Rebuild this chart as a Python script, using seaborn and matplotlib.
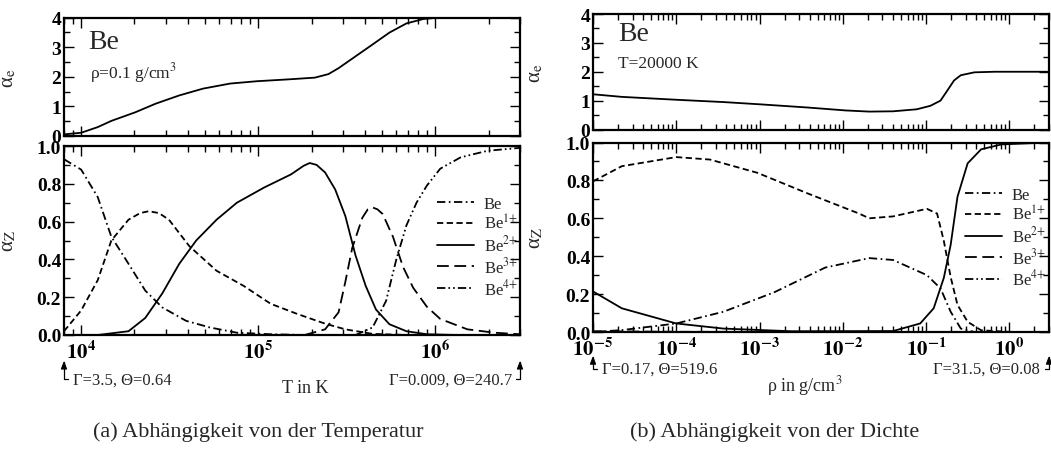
import numpy as np
import pandas as pd
import matplotlib
matplotlib.use("Agg")
import matplotlib.pyplot as plt
import seaborn as sns
from matplotlib.ticker import FixedLocator, LogLocator, NullFormatter, MultipleLocator

# ---------------- data: (a) temperature dependence, rho = 0.1 g/cm^3 ----------------
t_ae = [8000, 8180, 1.0e4, 12400, 14800, 20200, 26300, 35800, 48800, 69300, 98600, 146600,
        208400, 248900, 283800, 354000, 441600, 549500, 685500, 855100, 1.02e6, 1.66e6, 3.0e6]
ae_T = [0.03, 0.06, 0.11, 0.30, 0.51, 0.80, 1.09, 1.37, 1.60, 1.77, 1.85, 1.91,
        1.97, 2.09, 2.29, 2.69, 3.09, 3.49, 3.80, 3.95, 3.99, 4.0, 4.0]

t_be0 = [8000, 1.0e4, 12400, 14800, 18500, 23000, 28700, 39100, 53200, 75700, 117500, 182800, 3.0e6]
be0_T = [0.93, 0.875, 0.73, 0.52, 0.377, 0.235, 0.146, 0.075, 0.04, 0.012, 0.004, 0.0, 0.0]

t_be1 = [8000, 1.0e4, 12400, 14800, 18500, 21500, 24100, 27500, 31300, 40800, 58100, 82600, 117500,
         167500, 238200, 309700, 441600, 685500, 3.0e6]
be1_T = [0.02, 0.13, 0.29, 0.50, 0.61, 0.645, 0.655, 0.645, 0.61, 0.47, 0.34, 0.26, 0.165,
         0.11, 0.06, 0.03, 0.006, 0.0, 0.0]

t_be2 = [12400, 18500, 23000, 28700, 35800, 44600, 58100, 75700, 107700, 153100, 180000, 195000,
         213300, 238200, 271600, 309700, 354000, 403600, 461300, 549500, 685500, 893300, 1.33e6, 3.0e6]
be2_T = [0.0, 0.02, 0.09, 0.22, 0.377, 0.50, 0.61, 0.70, 0.78, 0.85, 0.895, 0.91,
         0.90, 0.86, 0.77, 0.63, 0.42, 0.26, 0.135, 0.057, 0.02, 0.004, 0.0, 0.0]

t_be3 = [182800, 238200, 283800, 309700, 338800, 386400, 415000, 441600, 470000, 503500, 575400, 656100,
         748200, 893300, 1.064e6, 1.514e6, 2.158e6, 3.0e6]
be3_T = [0.0, 0.03, 0.12, 0.28, 0.46, 0.62, 0.665, 0.675, 0.665, 0.64, 0.52, 0.36,
         0.25, 0.15, 0.085, 0.03, 0.012, 0.004]

t_be4 = [354000, 441600, 526000, 601200, 685500, 781600, 893300, 1.064e6, 1.387e6, 1.972e6, 3.0e6]
be4_T = [0.0, 0.04, 0.18, 0.40, 0.58, 0.70, 0.79, 0.88, 0.94, 0.975, 0.99]

# ---------------- data: (b) density dependence, T = 20000 K ----------------
r_ae = [1e-5, 2.22e-5, 1e-4, 3.70e-4, 1.04e-3, 3.85e-3, 1.08e-2, 2.08e-2, 4.02e-2, 7.74e-2,
        0.1127, 0.1493, 0.1803, 0.2173, 0.2618, 0.3811, 0.668, 3.0]
ae_R = [1.22, 1.13, 1.03, 0.95, 0.87, 0.76, 0.66, 0.62, 0.63, 0.70,
        0.82, 1.0, 1.35, 1.70, 1.88, 1.98, 2.0, 2.0]

r_be0 = [1e-5, 2.22e-5, 1e-4, 3.70e-4, 1.51e-3, 6.15e-3, 2.08e-2, 4.02e-2, 0.1026, 0.1493,
         0.1977, 0.2618, 0.3811, 3.0]
be0_R = [0.0, 0.01, 0.045, 0.107, 0.21, 0.34, 0.39, 0.38, 0.30, 0.23,
         0.107, 0.018, 0.0, 0.0]

r_be1 = [1e-5, 2.22e-5, 1e-4, 2.54e-4, 9.44e-4, 3.85e-3, 1.57e-2, 2.08e-2, 4.02e-2, 0.1026,
         0.1358, 0.1637, 0.1977, 0.2388, 0.3162, 0.4592, 1.07, 3.0]
be1_R = [0.795, 0.875, 0.923, 0.91, 0.84, 0.73, 0.625, 0.60, 0.61, 0.65,
         0.625, 0.48, 0.29, 0.143, 0.054, 0.009, 0.0, 0.0]

r_be2 = [1e-5, 2.22e-5, 1e-4, 3.70e-4, 2.41e-3, 4.02e-2, 8.51e-2, 0.1236, 0.1637, 0.1977,
         0.2388, 0.3162, 0.4592, 0.807, 3.0]
be2_R = [0.214, 0.125, 0.045, 0.018, 0.004, 0.005, 0.045, 0.125, 0.286, 0.46,
         0.714, 0.89, 0.964, 0.99, 1.0]

r_be3 = [1e-5, 1e-4, 0.1, 3.0]
be3_R = [0.004, 0.001, 0.0, 0.0]

r_be4 = [1e-5, 1e-4, 0.1, 3.0]
be4_R = [0.0, 0.0, 0.0, 0.0]

species = ["Be", "Be$^{1{+}}$", "Be$^{2{+}}$", "Be$^{3{+}}$", "Be$^{4{+}}$"]

xticks_T = [1e4, 1e5, 1e6]
xticklabels_T = [r"$\mathbf{10^{4}}$", r"$\mathbf{10^{5}}$", r"$\mathbf{10^{6}}$"]
xticks_R = [1e-5, 1e-4, 1e-3, 1e-2, 1e-1, 1e0]
xticklabels_R = [r"$\mathbf{10^{-5}}$", r"$\mathbf{10^{-4}}$", r"$\mathbf{10^{-3}}$",
                 r"$\mathbf{10^{-2}}$", r"$\mathbf{10^{-1}}$", r"$\mathbf{10^{0}}$"]
yticks_e = [0, 1, 2, 3, 4]
yticklabels_e = ["0", "1", "2", "3", "4"]
yticks_Z = [0.0, 0.2, 0.4, 0.6, 0.8, 1.0]
yticklabels_Z = ["0.0", "0.2", "0.4", "0.6", "0.8", "1.0"]

# ---------------- style ----------------
sns.set_theme(style="ticks")
plt.rcParams["font.family"] = ["Liberation Serif", "DejaVu Serif"]
plt.rcParams["mathtext.fontset"] = "stix"
plt.rcParams["lines.scale_dashes"] = False

styles = [
    (0, (6, 2.5, 1.2, 2.5)),             # Be: dash-dot
    (0, (4.5, 2.5)),                     # Be1+: short dashes
    "-",                                 # Be2+: solid
    (0, (8.5, 4)),                       # Be3+: long dashes
    (0, (6, 2.2, 1.2, 2.2, 1.2, 2.2)),   # Be4+: dash-dot-dot
]

W, H = 1051, 460
fig = plt.figure(figsize=(W / 100, H / 100), dpi=100)


def px_axes(x0, x1, ytop, ybot):
    return fig.add_axes([x0 / W, 1 - ybot / H, (x1 - x0) / W, (ybot - ytop) / H])


axTL = px_axes(64, 520, 18.5, 137)
axBL = px_axes(64, 520, 147, 336)
axTR = px_axes(593, 1049, 15, 130.5)
axBR = px_axes(593, 1049, 143.5, 333)

TICK_FS = 14


def style_axis(ax, xlim, xticks, xticklabels, show_x, ylim, yticks, yticklabels, yminor):
    ax.set_xscale("log")
    ax.set_xlim(*xlim)
    ax.set_ylim(*ylim)
    ax.xaxis.set_major_locator(FixedLocator(xticks))
    ax.xaxis.set_minor_locator(LogLocator(base=10, subs=np.arange(2, 10) * 1.0, numticks=40))
    ax.xaxis.set_minor_formatter(NullFormatter())
    if show_x:
        ax.set_xticks(xticks, xticklabels, fontsize=TICK_FS + 1)
    else:
        ax.set_xticks(xticks, [""] * len(xticks))
    ax.set_yticks(yticks, yticklabels, fontsize=TICK_FS, fontweight="bold")
    ax.yaxis.set_minor_locator(MultipleLocator(yminor))
    ax.tick_params(which="both", direction="in", top=True, right=True, width=1.0, colors="black")
    ax.tick_params(axis="y", pad=2)
    ax.tick_params(axis="x", pad=4)
    ax.tick_params(which="major", length=7)
    ax.tick_params(which="minor", length=4)
    for s in ax.spines.values():
        s.set_linewidth(1.6)
        s.set_color("black")
    ax.set_facecolor("white")


def draw(ax, x, y, ls, lw=1.3):
    df = pd.DataFrame({"x": x, "y": y})
    sns.lineplot(data=df, x="x", y="y", ax=ax, color="black", linewidth=lw, linestyle=ls,
                 sort=False, errorbar=None, estimator=None)


for ax in (axTL, axBL, axTR, axBR):
    ax.set_xscale("log")

# (a) temperature
draw(axTL, t_ae, ae_T, "-")
for (x, y), ls in zip([(t_be0, be0_T), (t_be1, be1_T), (t_be2, be2_T), (t_be3, be3_T), (t_be4, be4_T)], styles):
    draw(axBL, x, y, ls)

# (b) density
draw(axTR, r_ae, ae_R, "-")
for (x, y), ls in zip([(r_be0, be0_R), (r_be1, be1_R), (r_be2, be2_R), (r_be3, be3_R), (r_be4, be4_R)], styles):
    draw(axBR, x, y, ls)

style_axis(axTL, (8e3, 3e6), xticks_T, xticklabels_T, False, (0, 4), yticks_e, yticklabels_e, 0.5)
style_axis(axBL, (8e3, 3e6), xticks_T, xticklabels_T, True, (0, 1), yticks_Z, yticklabels_Z, 0.1)
style_axis(axTR, (1e-5, 3.0), xticks_R, xticklabels_R, False, (0, 4), yticks_e, yticklabels_e, 0.5)
style_axis(axBR, (1e-5, 3.0), xticks_R, xticklabels_R, True, (0, 1), yticks_Z, yticklabels_Z, 0.1)

for ax in (axTL, axBL, axTR, axBR):
    ax.set_xlabel("")

LAB_FS = 15
axTL.set_ylabel(r"α$_\mathrm{e}$", fontsize=LAB_FS)
axBL.set_ylabel(r"α$_\mathrm{Z}$", fontsize=LAB_FS)
axTR.set_ylabel(r"α$_\mathrm{e}$", fontsize=LAB_FS)
axBR.set_ylabel(r"α$_\mathrm{Z}$", fontsize=LAB_FS)
for ax in (axTL, axBL):
    ax.yaxis.set_label_coords(-0.100, 0.5)
for ax in (axTR, axBR):
    ax.yaxis.set_label_coords(-0.104, 0.5)

axBL.set_xlabel("T in K", fontsize=13)
axBL.xaxis.set_label_coords(0.53, -0.235)
axBR.set_xlabel(r"ρ in g/cm$^3$", fontsize=13)
axBR.xaxis.set_label_coords(0.465, -0.215)

# in-panel labels
axTL.text(0.053, 0.80, "Be", transform=axTL.transAxes, fontsize=20, va="center", ha="left")
axTL.text(0.057, 0.54, r"ρ=0.1 g/cm$^3$", transform=axTL.transAxes, fontsize=12.5, va="center", ha="left")
axTR.text(0.055, 0.83, "Be", transform=axTR.transAxes, fontsize=20, va="center", ha="left")
axTR.text(0.055, 0.577, "T=20000 K", transform=axTR.transAxes, fontsize=12.5, va="center", ha="left")

# legends
for ax, anchor in ((axBL, (0.818, 0.735)), (axBR, (0.816, 0.765))):
    ax.legend(ax.get_lines()[:5], species, loc="upper left", bbox_to_anchor=anchor,
              frameon=False, fontsize=12, handlelength=2.2, handletextpad=0.6,
              labelspacing=0.1, borderpad=0, borderaxespad=0)

# Gamma/Theta annotations
ANN_FS = 12
arrow = dict(arrowstyle="-|>,head_length=0.4,head_width=0.15", color="black", lw=0.9,
             connectionstyle="angle,angleA=0,angleB=90,rad=0", shrinkA=1, shrinkB=0)


def ann(ax, text, xtip, ytip, xt, yt, ha):
    a = dict(arrow)
    a["relpos"] = (0.0, 0.5) if ha == "left" else (1.0, 0.5)
    ax.annotate(text, xy=(xtip, ytip), xycoords="axes fraction", xytext=(xt, yt),
                textcoords="axes fraction", ha=ha, va="center", fontsize=ANN_FS,
                arrowprops=a, annotation_clip=False)


ann(axBL, "Γ=3.5, Θ=0.64", 0.0, -0.135, 0.02, -0.235, "left")
ann(axBL, "Γ=0.009, Θ=240.7", 1.0, -0.135, 0.982, -0.235, "right")
ann(axBR, "Γ=0.17, Θ=519.6", 0.0, -0.125, 0.02, -0.195, "left")
ann(axBR, "Γ=31.5, Θ=0.08", 1.0, -0.125, 0.98, -0.195, "right")

# captions
fig.text(258 / W, 1 - 432 / H, "(a) Abhängigkeit von der Temperatur", ha="center", va="center", fontsize=16)
fig.text(775 / W, 1 - 432 / H, "(b) Abhängigkeit von der Dichte", ha="center", va="center", fontsize=16)

fig.savefig("out.png", dpi=100, facecolor="white")
